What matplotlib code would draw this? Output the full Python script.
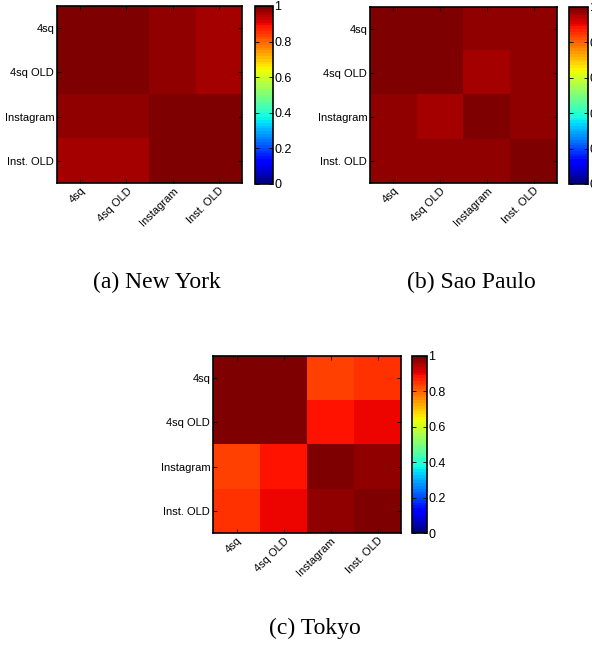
import numpy as np
import matplotlib
matplotlib.use("Agg")
import matplotlib.pyplot as plt

labels = ["4sq", "4sq OLD", "Instagram", "Inst. OLD"]

ny = [[1.0, 1.0, 0.975, 0.96],
      [1.0, 1.0, 0.975, 0.96],
      [0.975, 0.975, 1.0, 1.0],
      [0.96, 0.96, 1.0, 1.0]]

sp = [[1.0, 1.0, 0.975, 0.975],
      [1.0, 1.0, 0.96, 0.975],
      [0.975, 0.96, 1.0, 0.975],
      [0.975, 0.975, 0.975, 1.0]]

tokyo = [[1.0, 1.0, 0.835, 0.85],
         [1.0, 1.0, 0.88, 0.895],
         [0.835, 0.88, 1.0, 0.975],
         [0.85, 0.895, 0.975, 1.0]]

captions = ["(a) New York", "(b) Sao Paulo", "(c) Tokyo"]

plt.rcParams["font.family"] = ["Liberation Sans", "DejaVu Sans"]

W, H = 592, 646
cmap = plt.get_cmap("jet", 64)
fs = 8

fig = plt.figure(figsize=(W / 100, H / 100), dpi=100)

def box(x0, x1, y0, y1):
    return [x0 / W, 1 - y1 / H, (x1 - x0) / W, (y1 - y0) / H]

def panel(data, axbox, cbbox, cap, capxy):
    ax = fig.add_axes(box(*axbox))
    im = ax.imshow(np.array(data), cmap=cmap, vmin=0, vmax=1, aspect="auto",
                   interpolation="nearest")
    ax.set_xticks(range(4))
    ax.set_yticks(range(4))
    ax.set_xticklabels(labels, rotation=45, ha="right", va="top",
                       rotation_mode="anchor", fontsize=fs)
    ax.set_yticklabels(labels, fontsize=fs)
    ax.tick_params(direction="in", length=3, width=0.6, top=True, right=True, pad=2)
    for s in ax.spines.values():
        s.set_linewidth(1.2)
    cax = fig.add_axes(box(*cbbox))
    cb = fig.colorbar(im, cax=cax, ticks=[0, 0.2, 0.4, 0.6, 0.8, 1])
    cb.ax.set_yticklabels(["0", "0.2", "0.4", "0.6", "0.8", "1"])
    cb.ax.tick_params(direction="in", length=3, width=0.6, left=True, right=True,
                      labelsize=9, pad=1)
    cb.outline.set_linewidth(1.2)
    fig.text(capxy[0] / W, 1 - capxy[1] / H, cap, ha="center", va="center",
             fontsize=17, family="Liberation Serif")

panel(ny, (57, 242, 6, 183), (255, 273, 6, 184), captions[0], (157, 282))
panel(sp, (370, 557, 7, 183), (569, 588, 7, 184), captions[1], (471, 282))
panel(tokyo, (213, 401, 356, 533), (412, 427, 356, 533), captions[2], (315, 628))

fig.savefig("out.png", dpi=100)
